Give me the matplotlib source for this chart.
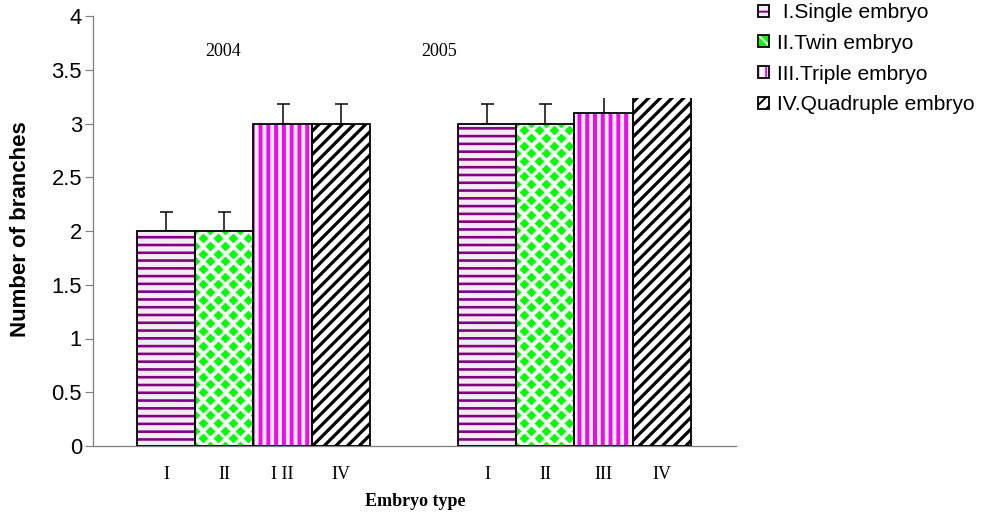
import matplotlib
matplotlib.use("Agg")
import matplotlib.pyplot as plt
import numpy as np
from matplotlib.patches import Patch, Rectangle
from matplotlib.legend_handler import HandlerTuple
from matplotlib.ticker import FuncFormatter

# mean number of branches per embryo type, two seasons
years = ["2004", "2005"]
embryo_types = [" I.Single embryo", "II.Twin embryo", "III.Triple embryo", "IV.Quadruple embryo"]
branches_2004 = [2.0, 2.0, 3.0, 3.0]
branches_2005 = [3.0, 3.0, 3.1, 3.3]
err_2004 = [0.18, 0.18, 0.18, 0.18]
err_2005 = [0.18, 0.18, 0.18, 0.18]
ticks_2004 = ["I", "II", "I II", "IV"]
ticks_2005 = ["I", "II", "III", "IV"]

DPI = 140
W, H = 995, 517


def pt(px):
    return px * 72 / DPI


plt.rcParams["font.family"] = ["Liberation Sans", "DejaVu Sans"]

fig = plt.figure(figsize=(W / DPI, H / DPI), dpi=DPI)
ax = fig.add_axes([93 / W, 1 - 446 / H, (736 - 93) / W, (446 - 16) / H])

# one unit = one bar width
group_left = [0.755, 6.265]
styles = [
    dict(face="#f5eaf5", hatch="---", color="#800080", hlw=pt(2.6)),
    dict(face="white", hatch=None, color="#00ff00", hlw=0),
    dict(face="white", hatch="|||", color="#ff00ff", hlw=pt(4.0)),
    dict(face="white", hatch="////", color="black", hlw=pt(3.2)),
]


def hatched_bar(x, h, st):
    with plt.rc_context({"hatch.linewidth": st["hlw"] or 1.0}):
        b = ax.bar(x, h, width=1.0, color=st["face"], edgecolor=st["color"],
                   hatch=st["hatch"], linewidth=0, zorder=2)[0]
    if hasattr(b, "set_hatch_linewidth") and st["hlw"]:
        b.set_hatch_linewidth(st["hlw"])
    return b


def diamonds(bar):
    # staggered green diamonds, clipped to the bar
    x0, w, h = bar.get_x(), bar.get_width(), bar.get_height()
    dx = 15 / 58.25
    dy = 7.7 / 107.5
    xs, ys = [], []
    for r, y in enumerate(np.arange(0, h + dy, dy)):
        off = 0 if r % 2 == 0 else dx / 2
        for x in np.arange(x0 - dx + off, x0 + w + dx, dx):
            xs.append(x)
            ys.append(y)
    sc = ax.scatter(xs, ys, marker="D", s=pt(7.0) ** 2, color="#00ff00",
                    linewidths=0, zorder=2.5)
    sc.set_clip_path(bar)


all_x, all_v, all_e, all_lab = [], [], [], []
for g, (vals, errs, labs) in enumerate([(branches_2004, err_2004, ticks_2004),
                                        (branches_2005, err_2005, ticks_2005)]):
    for i, (v, st) in enumerate(zip(vals, styles)):
        x = group_left[g] + 0.5 + i
        b = hatched_bar(x, v, st)
        if st["hatch"] is None:
            diamonds(b)
        ax.bar(x, v, width=1.0, fill=False, edgecolor="black",
               linewidth=pt(1.8), zorder=3)
        all_x.append(x)
    all_v += vals
    all_e += errs
    all_lab += labs

all_x = np.array(all_x)
ax.errorbar(all_x, all_v, yerr=[np.zeros(len(all_e)), all_e], fmt="none",
            ecolor="black", elinewidth=pt(1.5), capsize=pt(6.5),
            capthick=pt(1.5), zorder=1)

# white area hiding the top of the last 2005 bars
ax.add_patch(Rectangle((7.97, 3.24), 2.4, 1.0, facecolor="white",
                       edgecolor="none", zorder=10))

ax.set_xlim(0, 643 / 58.25)
ax.set_ylim(0, 4)
ax.set_yticks(np.arange(0, 4.01, 0.5))
ax.yaxis.set_major_formatter(FuncFormatter(lambda v, p: "%g" % v))
ax.tick_params(axis="y", length=pt(8), width=pt(1.2), color="#808080",
               labelsize=pt(22), pad=pt(3))
ax.set_xticks(all_x, all_lab, family="Liberation Serif", fontsize=pt(18))
ax.tick_params(axis="x", length=0, pad=pt(20))

for s in ["top", "right"]:
    ax.spines[s].set_visible(False)
for s in ["left", "bottom"]:
    ax.spines[s].set_color("#808080")
    ax.spines[s].set_linewidth(pt(1.3))

ax.text(223 / 58.25 - 93 / 58.25, 3.674, years[0], family="Liberation Serif",
        fontsize=pt(18), ha="center", va="center")
ax.text(439 / 58.25 - 93 / 58.25, 3.674, years[1], family="Liberation Serif",
        fontsize=pt(18), ha="center", va="center")

fig.text(415 / W, 1 - 502 / H, "Embryo type", family="Liberation Serif",
         fontweight="bold", fontsize=pt(18), ha="center", va="center")
fig.text(21 / W, 1 - 229 / H, "Number of branches", fontweight="bold",
         fontsize=pt(22.3), rotation=90, ha="center", va="center")

# legend: hatch layer + black outline
handles = []
for st in styles:
    if st["hatch"] is None:
        fill = Patch(facecolor="#00ff00", edgecolor="white", hatch="xx", linewidth=0)
    else:
        with plt.rc_context({"hatch.linewidth": st["hlw"] * 0.7}):
            fill = Patch(facecolor=st["face"], edgecolor=st["color"],
                         hatch=st["hatch"], linewidth=0)
    edge = Patch(facecolor="none", edgecolor="black", linewidth=pt(1.8))
    handles.append((fill, edge))

fig.legend(handles, embryo_types, loc="upper left",
           bbox_to_anchor=(758 / W, 1 - 3 / H), frameon=False,
           handler_map={tuple: HandlerTuple(ndivide=1, pad=0)},
           prop={"family": "Liberation Sans", "size": pt(21)},
           handlelength=0.5, handleheight=0.5, handletextpad=0.4,
           labelspacing=0.56, borderpad=0, borderaxespad=0)

fig.savefig("out.png", dpi=DPI)
